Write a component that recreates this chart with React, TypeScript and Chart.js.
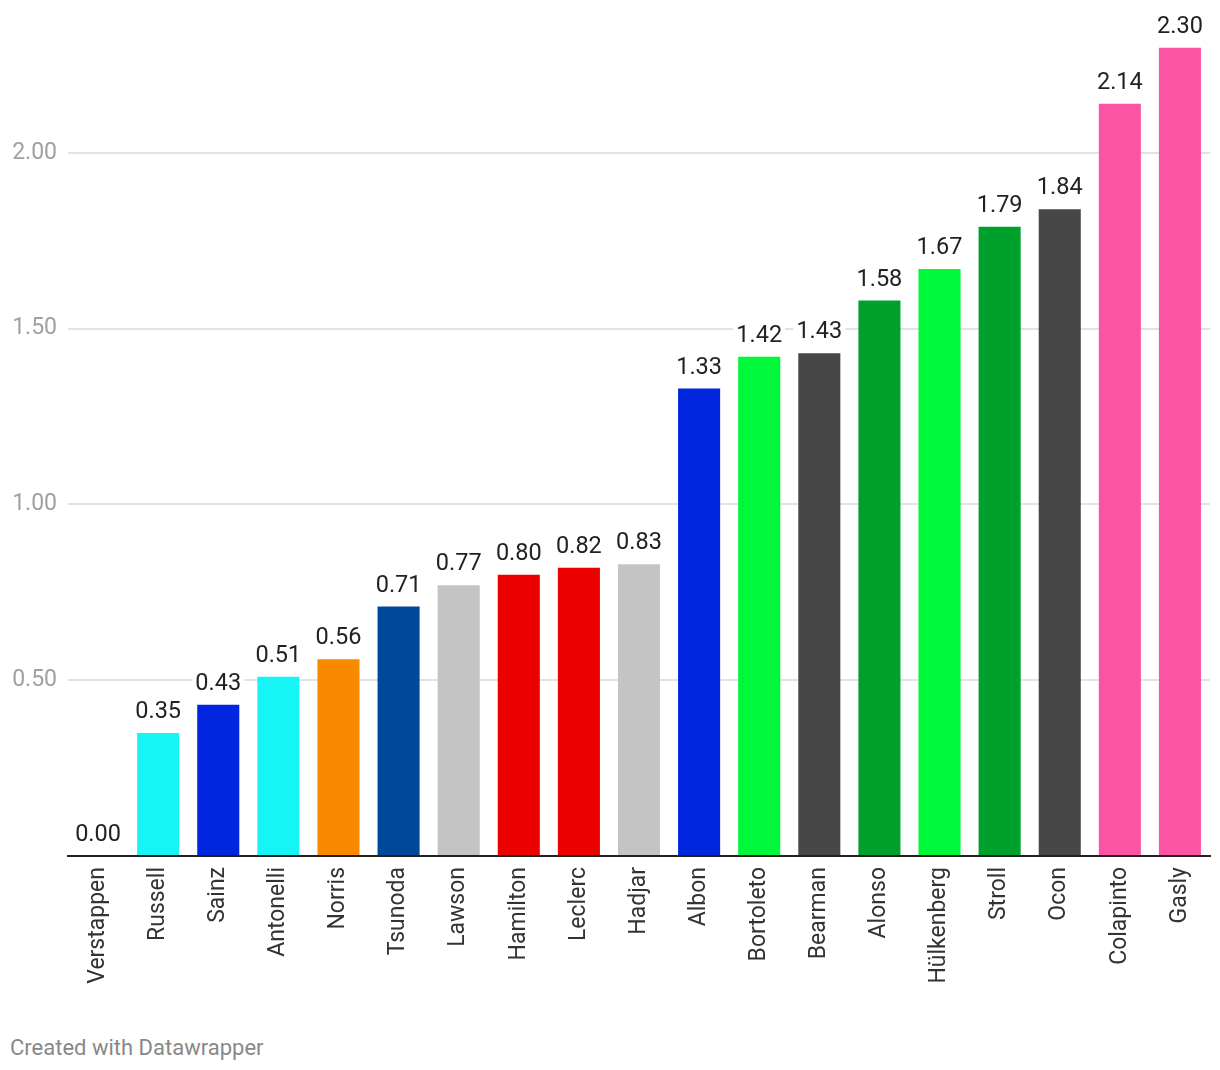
import Chart from 'chart.js/auto';
import { useEffect, useRef } from 'react';

const drivers = [
    'Verstappen', 'Russell', 'Sainz', 'Antonelli', 'Norris', 'Tsunoda', 'Lawson',
    'Hamilton', 'Leclerc', 'Hadjar', 'Albon', 'Bortoleto', 'Bearman', 'Alonso',
    'Hülkenberg', 'Stroll', 'Ocon', 'Colapinto', 'Gasly',
];
const values = [
    0.0, 0.35, 0.43, 0.51, 0.56, 0.71, 0.77, 0.8, 0.82, 0.83,
    1.33, 1.42, 1.43, 1.58, 1.67, 1.79, 1.84, 2.14, 2.3,
];
const barColors = [
    '#0026e0', '#15f5f5', '#0026e0', '#15f5f5', '#f98a00', '#00489a', '#c4c4c4',
    '#ec0000', '#ec0000', '#c4c4c4', '#0026e0', '#00f83a', '#474747', '#00a02c',
    '#00f83a', '#00a02c', '#474747', '#fc54a5', '#fc54a5',
];
const yTicks = [0.5, 1.0, 1.5, 2.0];

const FONT = 'Roboto, "Noto Sans", sans-serif';

// value labels above each bar, with a white box that breaks the gridlines
const valueLabels = {
    id: 'valueLabels',
    afterDatasetsDraw(chart: any) {
        const { ctx } = chart;
        const meta = chart.getDatasetMeta(0);
        ctx.save();
        ctx.font = `23.5px ${FONT}`;
        ctx.textAlign = 'center';
        ctx.textBaseline = 'bottom';
        meta.data.forEach((bar: any, i: number) => {
            const text = values[i].toFixed(2);
            const w = ctx.measureText(text).width;
            const y = bar.y - 9;
            ctx.fillStyle = '#ffffff';
            ctx.fillRect(bar.x - w / 2 - 3, y - 22, w + 6, 22);
            ctx.fillStyle = '#222222';
            ctx.fillText(text, bar.x, y);
        });
        ctx.restore();
    },
};

export default function App() {
    const canvasRef = useRef<HTMLCanvasElement>(null);

    useEffect(() => {
        const ctx = canvasRef.current?.getContext('2d');
        if (!ctx) return;

        const chart = new Chart(ctx, {
            type: 'bar',
            data: {
                labels: drivers,
                datasets: [
                    {
                        data: values,
                        backgroundColor: barColors,
                        barPercentage: 0.7,
                        categoryPercentage: 1,
                    },
                ],
            },
            options: {
                animation: false,
                responsive: true,
                maintainAspectRatio: false,
                layout: { padding: { top: 39.5, right: 2, left: 0, bottom: 0 } },
                plugins: {
                    legend: { display: false },
                    tooltip: { enabled: false },
                },
                scales: {
                    x: {
                        grid: { display: false },
                        border: { display: true, color: '#222222', width: 2 },
                        ticks: {
                            color: '#333333',
                            font: { family: FONT, size: 23 },
                            minRotation: 90,
                            maxRotation: 90,
                            padding: 3,
                            autoSkip: false,
                        },
                        afterFit(scale: any) {
                            scale.height = 152;
                        },
                    },
                    y: {
                        min: 0,
                        max: 2.3,
                        border: { display: false },
                        grid: {
                            color: (c: any) => (c.tick && c.tick.value === 0 ? 'rgba(0,0,0,0)' : '#e3e3e3'),
                            lineWidth: 2,
                            drawTicks: false,
                        },
                        afterBuildTicks(scale: any) {
                            scale.ticks = [0, ...yTicks].map((v) => ({ value: v }));
                        },
                        ticks: {
                            color: '#a0a0a0',
                            font: { family: FONT, size: 23 },
                            padding: 11,
                            callback: (v: any) => (Number(v) === 0 ? '' : Number(v).toFixed(2)),
                        },
                        afterFit(scale: any) {
                            scale.width = 60;
                        },
                    },
                },
            },
            plugins: [valueLabels],
        });

        return () => {
            chart.destroy();
        };
    }, []);

    return (
        <div style={{ fontFamily: FONT }}>
            <div style={{ position: 'relative', height: 1000 }}>
                <canvas ref={canvasRef} />
            </div>
            <div style={{ color: '#888888', fontSize: 22, marginTop: 27, marginLeft: 2 }}>
                Created with Datawrapper
            </div>
        </div>
    );
}
